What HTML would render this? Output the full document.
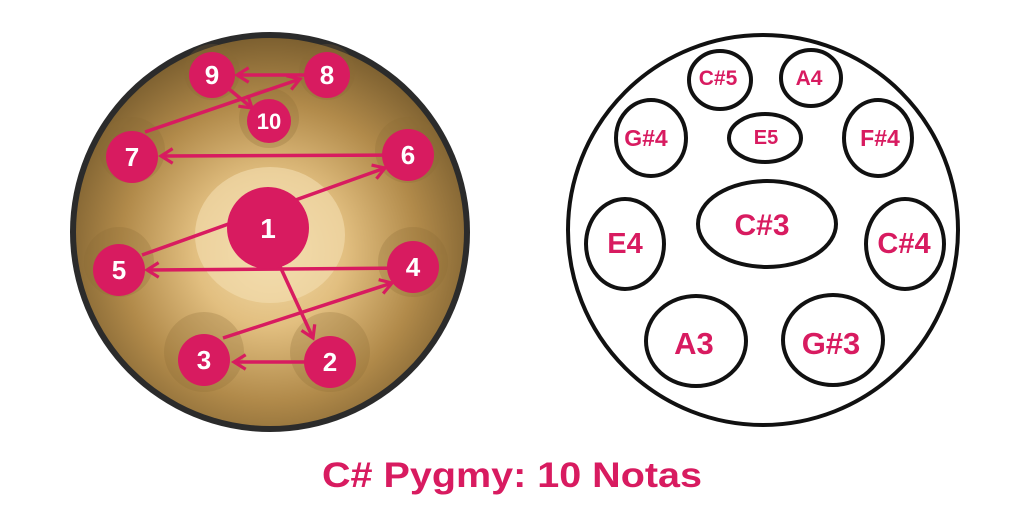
<!DOCTYPE html>
<html><head><meta charset="utf-8"><style>
html,body{margin:0;padding:0;background:#fff;width:1024px;height:512px;overflow:hidden}
svg{display:block}
text{font-family:"Liberation Sans",Arial,sans-serif;font-weight:bold}
</style></head><body>
<svg width="1024" height="512" viewBox="0 0 1024 512" xmlns="http://www.w3.org/2000/svg">
<defs>
<radialGradient id="g" cx="0.5" cy="0.55" r="0.55">
<stop offset="0" stop-color="#f3dcaa"/>
<stop offset="0.35" stop-color="#e2bf80"/>
<stop offset="0.7" stop-color="#b18a4a"/>
<stop offset="1" stop-color="#7d6030"/>
</radialGradient>
<marker id="a" viewBox="0 0 12 12" refX="10" refY="6" markerWidth="5" markerHeight="5" orient="auto" markerUnits="strokeWidth">
<polyline points="2,1 10,6 2,11" fill="none" stroke="#d81b60" stroke-width="2.2"/>
</marker>
</defs>
<circle cx="270" cy="232" r="200" fill="#2b2b2b"/>
<circle cx="270" cy="232" r="194" fill="url(#g)"/>
<ellipse cx="270" cy="235" rx="75" ry="68" fill="#f4ddb0" opacity="0.6"/>
<g fill="#8a6a35" opacity="0.25">
<circle cx="212" cy="72" r="28"/><circle cx="327" cy="72" r="28"/><circle cx="269" cy="118" r="30"/>
<circle cx="132" cy="150" r="33"/><circle cx="408" cy="150" r="33"/><circle cx="119" cy="262" r="35"/>
<circle cx="413" cy="262" r="35"/><circle cx="204" cy="352" r="40"/><circle cx="330" cy="352" r="40"/>
</g>
<g stroke="#d81b60" stroke-width="3.5" fill="none">
<line x1="327" y1="75" x2="237" y2="75" marker-end="url(#a)"/>
<line x1="212" y1="75" x2="252" y2="108" marker-end="url(#a)"/>
<line x1="145" y1="132" x2="300" y2="79" marker-end="url(#a)"/>
<line x1="408" y1="155" x2="161" y2="156" marker-end="url(#a)"/>
<line x1="142" y1="255" x2="385" y2="168" marker-end="url(#a)"/>
<line x1="413" y1="268" x2="147" y2="270" marker-end="url(#a)"/>
<line x1="278" y1="262" x2="313" y2="338" marker-end="url(#a)"/>
<line x1="330" y1="362" x2="234" y2="362" marker-end="url(#a)"/>
<line x1="223" y1="338" x2="392" y2="283" marker-end="url(#a)"/>
</g>
<g fill="#d81b60">
<circle cx="212" cy="75" r="23"/><circle cx="327" cy="75" r="23"/><circle cx="269" cy="121" r="22"/>
<circle cx="132" cy="157" r="26"/><circle cx="408" cy="155" r="26"/><circle cx="268" cy="228" r="41"/>
<circle cx="119" cy="270" r="26"/><circle cx="413" cy="267" r="26"/><circle cx="204" cy="360" r="26"/>
<circle cx="330" cy="362" r="26"/>
</g>
<g fill="#fff" text-anchor="middle">
<text x="212" y="84" font-size="26">9</text>
<text x="327" y="84" font-size="26">8</text>
<text x="269" y="129" font-size="22">10</text>
<text x="132" y="166" font-size="26">7</text>
<text x="408" y="164" font-size="26">6</text>
<text x="268" y="238" font-size="28">1</text>
<text x="119" y="279" font-size="26">5</text>
<text x="413" y="276" font-size="26">4</text>
<text x="204" y="369" font-size="26">3</text>
<text x="330" y="371" font-size="26">2</text>
</g>
<g fill="none" stroke="#111" stroke-width="4">
<circle cx="763" cy="230" r="195"/>
<ellipse cx="720" cy="80" rx="31" ry="29"/>
<ellipse cx="811" cy="78" rx="30" ry="28"/>
<ellipse cx="651" cy="138" rx="35" ry="38"/>
<ellipse cx="765" cy="138" rx="36" ry="24"/>
<ellipse cx="878" cy="138" rx="34" ry="38"/>
<ellipse cx="767" cy="224" rx="69" ry="43"/>
<ellipse cx="625" cy="244" rx="39" ry="45"/>
<ellipse cx="905" cy="244" rx="39" ry="45"/>
<ellipse cx="696" cy="341" rx="50" ry="45"/>
<ellipse cx="833" cy="340" rx="50" ry="45"/>
</g>
<g fill="#d81b60" text-anchor="middle">
<text x="718" y="85" font-size="21">C#5</text>
<text x="809" y="85" font-size="21">A4</text>
<text x="646" y="146" font-size="23">G#4</text>
<text x="766" y="144" font-size="20">E5</text>
<text x="880" y="146" font-size="23">F#4</text>
<text x="762" y="235" font-size="30">C#3</text>
<text x="625" y="253" font-size="29">E4</text>
<text x="904" y="253" font-size="29">C#4</text>
<text x="694" y="354" font-size="31">A3</text>
<text x="831" y="354" font-size="31">G#3</text>
</g>
<text x="512" y="487" fill="#d81b60" font-size="35" text-anchor="middle" textLength="380" lengthAdjust="spacingAndGlyphs">C# Pygmy: 10 Notas</text>
</svg>
</body></html>
